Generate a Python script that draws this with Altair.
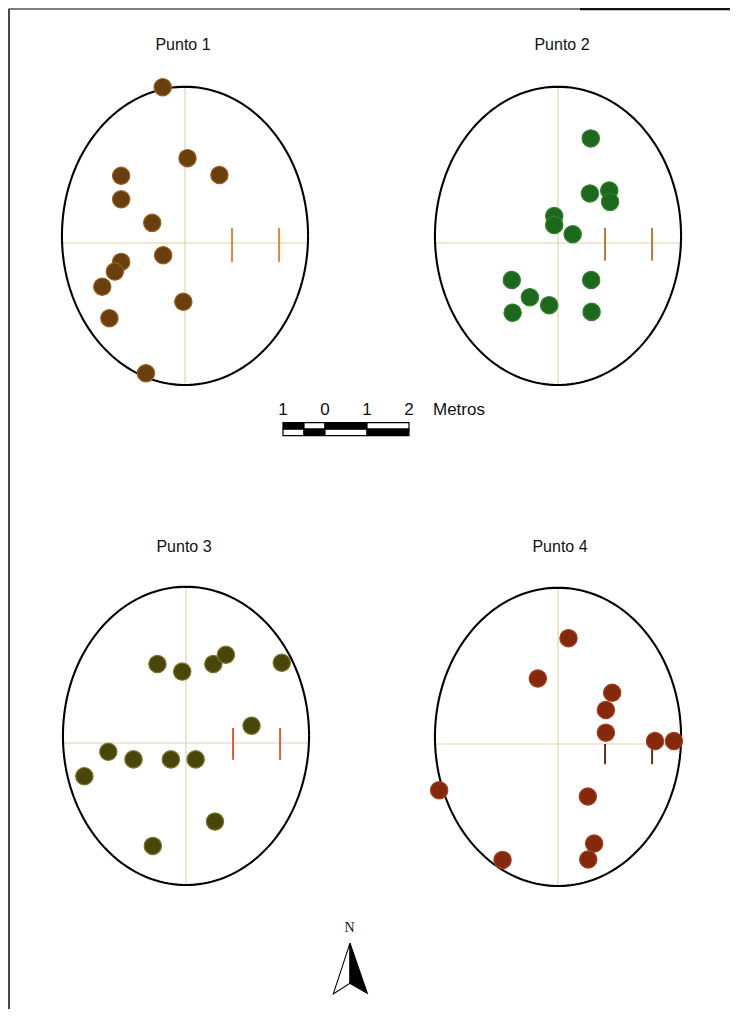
import altair as alt
import numpy as np
import pandas as pd

# ---------------- data (metres, relative to each panel's cross-hair; north = +dy) -------------
panels = ["Punto 1", "Punto 2", "Punto 3", "Punto 4"]

p1_dx = [-0.53, 0.06, 0.82, -1.52, -1.52, -0.78, -0.52, -1.52, -1.67, -1.97, -0.04, -1.80, -0.93]
p1_dy = [3.71, 2.02, 1.62, 1.60, 1.04, 0.48, -0.29, -0.45, -0.68, -1.04, -1.40, -1.79, -3.10]

p2_dx = [0.78, 0.76, 1.22, 1.24, -0.09, -0.09, 0.35, -1.10, 0.79, -0.67, -0.21, -1.08, 0.80]
p2_dy = [2.49, 1.18, 1.25, 0.98, 0.64, 0.43, 0.21, -0.88, -0.88, -1.29, -1.48, -1.66, -1.64]

p3_dx = [-0.68, -0.09, 0.65, 0.95, 2.28, 1.56, -1.85, -1.25, -0.36, 0.23, -2.42, 0.69, -0.79]
p3_dy = [1.88, 1.70, 1.88, 2.10, 1.91, 0.41, -0.21, -0.39, -0.39, -0.39, -0.79, -1.87, -2.45]

p4_dx = [0.25, -0.48, 1.29, 1.14, 1.14, 2.31, 2.76, -2.83, 0.71, 0.86, 0.72, -1.32]
p4_dy = [2.52, 1.56, 1.22, 0.81, 0.27, 0.07, 0.07, -1.10, -1.25, -2.37, -2.75, -2.76]

# sampling ellipse (metres)
ellipse_rx = 2.93
ellipse_ry = 3.55
ellipse_north_offset = 0.17
tick_positions = [1.12, 2.24]          # graduation marks on the E axis (metres)

# scale bar (metres) and its labels
bar_edges = [-1.0, -0.5, 0.0, 1.0, 2.0]
bar_labels = ["1", "0", "1", "2"]
bar_label_pos = [-1.0, 0.0, 1.0, 2.0]
bar_unit = "Metros"

# ---------------- layout / style ----------------
PX = 42.0                       # pixels per metre on the page
W, H = 722, 1001


def mx(px):
    return (px - 8) / PX


def my(py):
    return (py - 8) / PX


centre_px = {"Punto 1": (185.0, 243.0), "Punto 2": (558.0, 243.0),
             "Punto 3": (186.0, 743.0), "Punto 4": (558.0, 744.0)}
title_px = {"Punto 1": (183, 45), "Punto 2": (562, 45),
            "Punto 3": (184, 547), "Punto 4": (560, 547)}
fills = {"Punto 1": "#6a3f10", "Punto 2": "#1c681c", "Punto 3": "#48460b", "Punto 4": "#84280e"}
edges = {"Punto 1": "#9a6020", "Punto 2": "#34802c", "Punto 3": "#7c7628", "Punto 4": "#a4421e"}
tick_cols = {"Punto 1": "#d88a3a", "Punto 2": "#b8783c", "Punto 3": "#d8603c", "Punto 4": "#5a3422"}
tick_span = {"Punto 1": (0.36, -0.45), "Punto 2": (0.36, -0.42),
             "Punto 3": (0.36, -0.40), "Punto 4": (0.0, -0.48)}

xs = alt.Scale(domain=[0, W / PX], nice=False, zero=False)
ys = alt.Scale(domain=[0, H / PX], nice=False, zero=False, reverse=True)


def X(f="x"):
    return alt.X(f"{f}:Q", scale=xs, axis=None)


def Y(f="y"):
    return alt.Y(f"{f}:Q", scale=ys, axis=None)


# ---------------- tables ----------------
pts_rows = []
for name, dxs, dys in zip(panels, [p1_dx, p2_dx, p3_dx, p4_dx], [p1_dy, p2_dy, p3_dy, p4_dy]):
    cx, cy = mx(centre_px[name][0]), my(centre_px[name][1])
    for dx, dy in zip(dxs, dys):
        pts_rows.append({"panel": name, "x": cx + dx, "y": cy - dy,
                         "fill": fills[name], "edge": edges[name]})
pts = pd.DataFrame(pts_rows)

ell_rows, cross_rows, tick_rows, title_rows = [], [], [], []
ang = np.arange(0, 361, 2)
for name in panels:
    cx, cy = mx(centre_px[name][0]), my(centre_px[name][1])
    ecy = cy - ellipse_north_offset
    for i, a in enumerate(ang):
        t = np.radians(a)
        ell_rows.append({"panel": name, "i": i,
                         "x": cx + ellipse_rx * np.cos(t), "y": ecy + ellipse_ry * np.sin(t)})
    cross_rows.append({"x": cx, "x2": cx, "y": ecy - ellipse_ry, "y2": ecy + ellipse_ry})
    cross_rows.append({"x": cx - ellipse_rx, "x2": cx + ellipse_rx, "y": cy, "y2": cy})
    for tp in tick_positions:
        top, bot = tick_span[name]
        tick_rows.append({"x": cx + tp, "x2": cx + tp, "y": cy - top, "y2": cy - bot,
                          "col": tick_cols[name]})
    title_rows.append({"x": mx(title_px[name][0]), "y": my(title_px[name][1]), "t": name})

ell = pd.DataFrame(ell_rows)
cross = pd.DataFrame(cross_rows)
ticks = pd.DataFrame(tick_rows)
titles = pd.DataFrame(title_rows)

# scale bar
bar_x0 = mx(325)
bar_top, bar_mid, bar_bot = my(422.7), my(429.2), my(435.7)
bar_rows = []
for k in range(len(bar_edges) - 1):
    a, b = bar_edges[k], bar_edges[k + 1]
    top_black = (k % 2 == 0)
    bar_rows.append({"x": bar_x0 + a, "x2": bar_x0 + b, "y": bar_top, "y2": bar_mid,
                     "f": "#000000" if top_black else "#ffffff"})
    bar_rows.append({"x": bar_x0 + a, "x2": bar_x0 + b, "y": bar_mid, "y2": bar_bot,
                     "f": "#ffffff" if top_black else "#000000"})
bar = pd.DataFrame(bar_rows)
bar_txt = pd.DataFrame({"x": [bar_x0 + p for p in bar_label_pos], "y": [my(410)] * 4, "t": bar_labels})
unit_txt = pd.DataFrame({"x": [mx(433)], "y": [my(410)], "t": [bar_unit]})

# north arrow
north = pd.DataFrame({"x": [mx(350)], "y": [my(968.7)]})
north_txt = pd.DataFrame({"x": [mx(349.5)], "y": [my(928)], "t": ["N"]})

# frame
frame = pd.DataFrame([
    {"x": mx(9), "x2": mx(9), "y": my(9), "y2": my(1017), "c": "#333333", "w": 1.8},
    {"x": mx(8.5), "x2": mx(580), "y": my(9), "y2": my(9), "c": "#555555", "w": 1.6},
    {"x": mx(580), "x2": mx(738), "y": my(9), "y2": my(9), "c": "#111111", "w": 2.6},
])

# ---------------- layers ----------------
frame_l = alt.Chart(frame).mark_rule().encode(
    x=X(), x2="x2:Q", y=Y(), y2="y2:Q",
    color=alt.Color("c:N", scale=None), strokeWidth=alt.StrokeWidth("w:Q", scale=None))

cross_l = alt.Chart(cross).mark_rule(color="#e2d2a6", strokeWidth=1.1).encode(
    x=X(), x2="x2:Q", y=Y(), y2="y2:Q")

tick_l = alt.Chart(ticks).mark_rule(strokeWidth=2).encode(
    x=X(), x2="x2:Q", y=Y(), y2="y2:Q", color=alt.Color("col:N", scale=None))

ell_l = alt.Chart(ell).mark_line(color="#000000", strokeWidth=2.1).encode(
    x=X(), y=Y(), detail="panel:N", order="i:Q")

pts_l = alt.Chart(pts).mark_circle(size=300, opacity=1, strokeWidth=1.2).encode(
    x=X(), y=Y(),
    color=alt.Color("fill:N", scale=None),
    stroke=alt.Stroke("edge:N", scale=None))

title_l = alt.Chart(titles).mark_text(
    font="Liberation Sans Narrow, Liberation Sans, sans-serif", fontSize=16,
    align="center", baseline="middle", color="#111111").encode(x=X(), y=Y(), text="t:N")

bar_l = alt.Chart(bar).mark_rect(stroke="#000000", strokeWidth=1.2).encode(
    x=X(), x2="x2:Q", y=Y(), y2="y2:Q", fill=alt.Fill("f:N", scale=None))

bar_txt_l = alt.Chart(bar_txt).mark_text(
    font="Liberation Sans, sans-serif", fontSize=17, align="center", baseline="middle",
    color="#111111").encode(x=X(), y=Y(), text="t:N")

unit_l = alt.Chart(unit_txt).mark_text(
    font="Liberation Sans, sans-serif", fontSize=17, align="left", baseline="middle",
    color="#111111").encode(x=X(), y=Y(), text="t:N")

arrow_left = alt.Chart(north).mark_point(
    shape="M0,-1 L-0.655,0.99 L0,0.573 Z", size=2601, filled=True,
    fill="#ffffff", stroke="#000000", strokeWidth=1.1, opacity=1).encode(x=X(), y=Y())
arrow_right = alt.Chart(north).mark_point(
    shape="M0,-1 L0.678,0.966 L0,0.573 Z", size=2601, filled=True,
    fill="#000000", stroke="#000000", strokeWidth=1.1, opacity=1).encode(x=X(), y=Y())
north_l = alt.Chart(north_txt).mark_text(
    font="Liberation Serif, serif", fontSize=14, align="center", baseline="middle",
    color="#111111").encode(x=X(), y=Y(), text="t:N")

chart = alt.layer(
    frame_l, cross_l, tick_l, ell_l, pts_l, title_l,
    bar_l, bar_txt_l, unit_l, arrow_left, arrow_right, north_l
).properties(
    width=W, height=H, padding=0, autosize=alt.AutoSizeParams(type="none")
).configure_view(stroke=None)

chart.save("out.html", embed_options={"renderer": "svg", "actions": False})
